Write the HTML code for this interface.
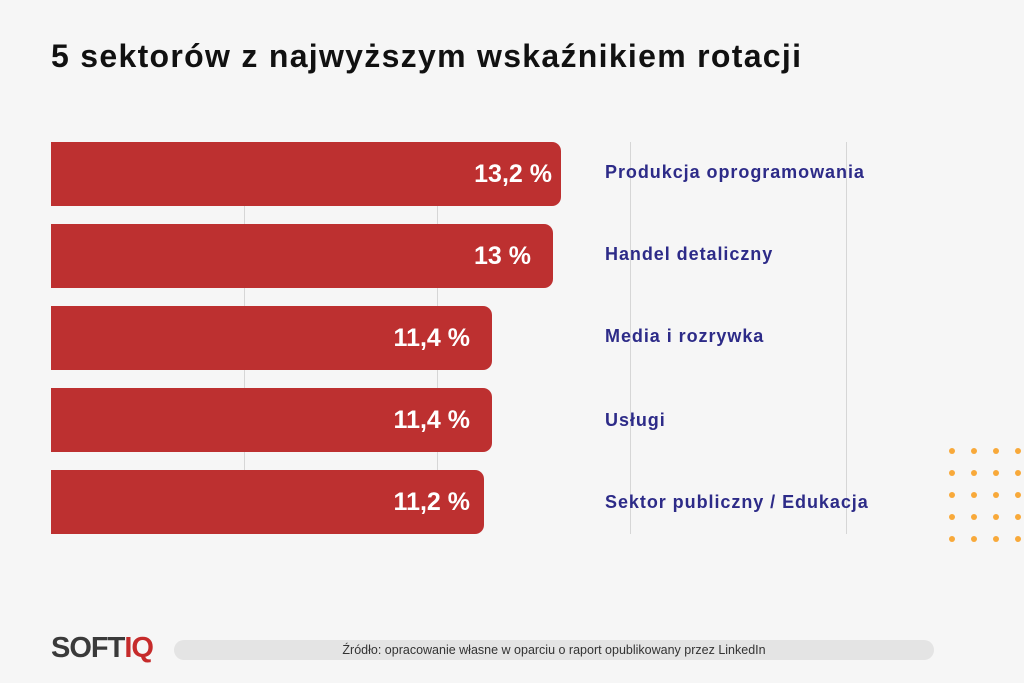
<!DOCTYPE html>
<html><head><meta charset="utf-8"><style>
body{margin:0;width:1024px;height:683px;background:#f6f6f6;font-family:"Liberation Sans",sans-serif;position:relative;overflow:hidden}
.t{position:absolute;left:51px;top:38px;font-size:32px;font-weight:bold;color:#111;letter-spacing:1.3px}
.g{position:absolute;top:142px;height:392px;width:1px;background:#d6d6d6}
.b{position:absolute;left:51px;height:64px;background:#bd3030;border-radius:0 9px 9px 0;color:#fff;font-weight:bold;font-size:25px;text-align:right;box-sizing:border-box;padding-right:9px;line-height:64px}
.l{position:absolute;left:605px;color:#2d2b88;font-weight:bold;font-size:18px;letter-spacing:0.95px;line-height:64px}
.d{position:absolute;width:6px;height:6px;border-radius:50%;background:#f8a93a}
.logo{position:absolute;left:51px;top:632px;font-size:29px;font-weight:bold;color:#3a3a3a;letter-spacing:-1px}
.pill{position:absolute;left:174px;top:640px;width:760px;height:20px;border-radius:10px;background:#e4e4e4;font-size:12.5px;color:#333;text-align:center;line-height:20px}
</style></head><body>
<div class="t">5 sektorów z najwyższym wskaźnikiem rotacji</div>
<div class="g" style="left:244px"></div><div class="g" style="left:437px"></div><div class="g" style="left:630px"></div><div class="g" style="left:846px"></div>
<div class="b" style="top:142px;width:510px">13,2 %</div><div class="l" style="top:140px">Produkcja oprogramowania</div>
<div class="b" style="top:224px;width:502px;padding-right:22px">13 %</div><div class="l" style="top:222px">Handel detaliczny</div>
<div class="b" style="top:306px;width:441px;padding-right:22px">11,4 %</div><div class="l" style="top:304px">Media i rozrywka</div>
<div class="b" style="top:388px;width:441px;padding-right:22px">11,4 %</div><div class="l" style="top:388px">Usługi</div>
<div class="b" style="top:470px;width:433px;padding-right:14px">11,2 %</div><div class="l" style="top:470px">Sektor publiczny / Edukacja</div>
<div id="dots"></div>
<div class="logo">SOFT<span style="color:#c62b2b">IQ</span></div>
<div class="pill">Źródło: opracowanie własne w oparciu o raport opublikowany przez LinkedIn</div>
<script>
var h='';for(var i=0;i<4;i++)for(var j=0;j<5;j++)h+='<div class="d" style="left:'+(949+i*22)+'px;top:'+(448+j*22)+'px"></div>';
document.getElementById('dots').innerHTML=h;
</script>
</body></html>
